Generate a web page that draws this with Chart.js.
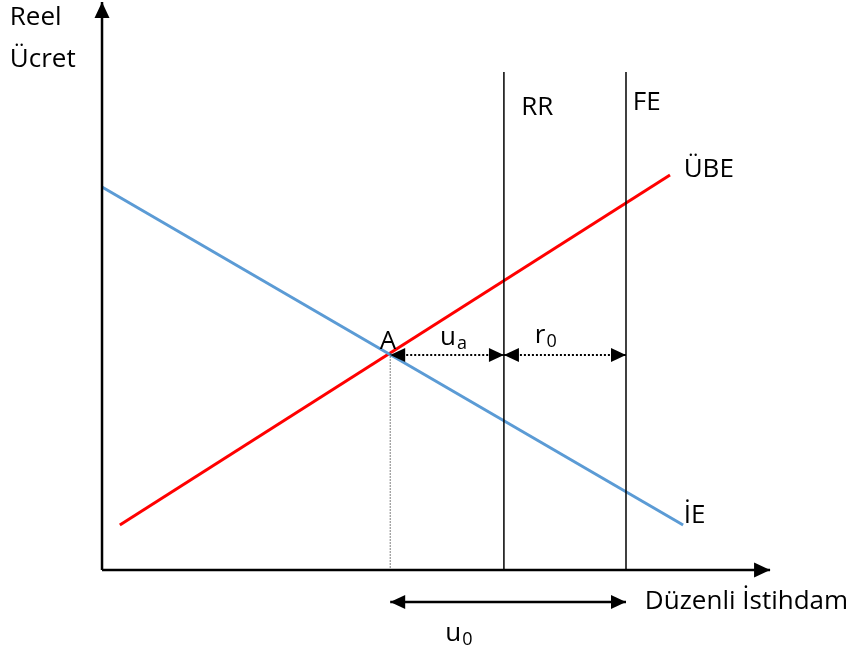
<!DOCTYPE html>
<html>
<head>
<meta charset="utf-8">
<script src="https://cdn.jsdelivr.net/npm/chart.js@4"></script>
<style>
  body { margin: 0; background: #fff; }
  #labourChart { display: block; }
</style>
</head>
<body>
<canvas id="labourChart" width="850" height="652"></canvas>
<script>
// diagram units: origin at the axis corner, FE = 100 on employment axis
const demandX = [0, 110.9];      // İE (labour demand)
const demandY = [76.6, 9];
const wageSetX = [3.4, 108.4];   // ÜBE (wage setting)
const wageSetY = [9, 79];
const rrX = 76.7;
const feX = 100;
const verticalTop = 99.6;
const pointA = [55, 43.3];
const gapY = 43;                 // level of the u_a / r_0 arrows
const u0Y = -6.4;                // level of the u_0 arrow
const axisEndX = 127.5;
const axisEndY = 113.6;

const FONT = "'Open Sans', Lato, sans-serif";

function seg(x1, y1, x2, y2) {
  return [{ x: x1, y: y1 }, { x: x2, y: y2 }];
}

function lineSet(data, color, width, extra) {
  return Object.assign({
    data,
    showLine: true,
    borderColor: color,
    backgroundColor: color,
    borderWidth: width,
    pointRadius: 0,
    fill: false,
    tension: 0,
  }, extra || {});
}

const datasets = [
  lineSet(seg(0, 0, 0, axisEndY), "#000", 2.5, { arrow: "end", headL: 16, headW: 15 }),
  lineSet(seg(0, 0, axisEndX, 0), "#000", 2.5, { arrow: "end", headL: 16, headW: 15 }),
  lineSet(seg(rrX, 0, rrX, verticalTop), "#000", 1.5),
  lineSet(seg(feX, 0, feX, verticalTop), "#000", 1.5),
  lineSet(seg(pointA[0], pointA[1], pointA[0], 0), "#000", 1, { borderDash: [1, 2] }),
  lineSet(seg(demandX[0], demandY[0], demandX[1], demandY[1]), "#5b9bd5", 3),
  lineSet(seg(wageSetX[0], wageSetY[0], wageSetX[1], wageSetY[1]), "#ff0000", 3),
  lineSet(seg(pointA[0], gapY, rrX, gapY), "#000", 2, { borderDash: [2, 2], arrow: "both", headL: 15, headW: 14 }),
  lineSet(seg(rrX, gapY, feX, gapY), "#000", 2, { borderDash: [2, 2], arrow: "both", headL: 15, headW: 14 }),
  lineSet(seg(pointA[0], u0Y, feX, u0Y), "#000", 2.5, { arrow: "both", headL: 15, headW: 14 }),
];

// text labels: [text, subscript, x, y] in diagram units (left edge, vertical middle)
const labels = [
  ["Reel", "", -17.6, 110.4],
  ["Ücret", "", -17.6, 102],
  ["RR", "", 80.0, 92.4],
  ["FE", "", 101.3, 93.4],
  ["ÜBE", "", 111.0, 80],
  ["İE", "", 111.0, 10.8],
  ["A", "", 53.0, 45.6],
  ["u", "a", 64.5, 46.4],
  ["r", "0", 82.6, 46.8],
  ["Düzenli İstihdam", "", 103.6, -6.4],
  ["u", "0", 65.5, -12.8],
];

const arrowPlugin = {
  id: "arrowHeads",
  afterDatasetsDraw(chart) {
    const { ctx } = chart;
    const xs = chart.scales.x, ys = chart.scales.y;
    chart.data.datasets.forEach((ds) => {
      if (!ds.arrow) return;
      const p = ds.data.map((d) => [xs.getPixelForValue(d.x), ys.getPixelForValue(d.y)]);
      const ends = ds.arrow === "both" ? [[p[1], p[0]], [p[0], p[1]]] : [[p[0], p[1]]];
      ends.forEach(([from, tip]) => {
        const ang = Math.atan2(tip[1] - from[1], tip[0] - from[0]);
        ctx.save();
        ctx.translate(tip[0], tip[1]);
        ctx.rotate(ang);
        ctx.beginPath();
        ctx.moveTo(0, 0);
        ctx.lineTo(-ds.headL, -ds.headW / 2);
        ctx.lineTo(-ds.headL, ds.headW / 2);
        ctx.closePath();
        ctx.fillStyle = ds.borderColor;
        ctx.fill();
        ctx.restore();
      });
    });

    ctx.save();
    ctx.fillStyle = "#000";
    ctx.textBaseline = "middle";
    ctx.textAlign = "left";
    labels.forEach(([txt, sub, x, y]) => {
      const px = xs.getPixelForValue(x), py = ys.getPixelForValue(y);
      ctx.font = "26px " + FONT;
      ctx.fillText(txt, px, py);
      if (sub) {
        const w = ctx.measureText(txt).width;
        ctx.font = "18px " + FONT;
        ctx.fillText(sub, px + w + 1, py + 6);
      }
    });
    ctx.restore();
  },
};

new Chart(document.getElementById("labourChart"), {
  type: "scatter",
  data: { datasets },
  options: {
    responsive: false,
    animation: false,
    layout: { padding: 0 },
    plugins: { legend: { display: false }, tooltip: { enabled: false } },
    scales: {
      x: { type: "linear", display: false, min: -19.47, max: 142.75 },
      y: { type: "linear", display: false, min: -16.4, max: 114 },
    },
  },
  plugins: [arrowPlugin],
});
</script>
</body>
</html>
